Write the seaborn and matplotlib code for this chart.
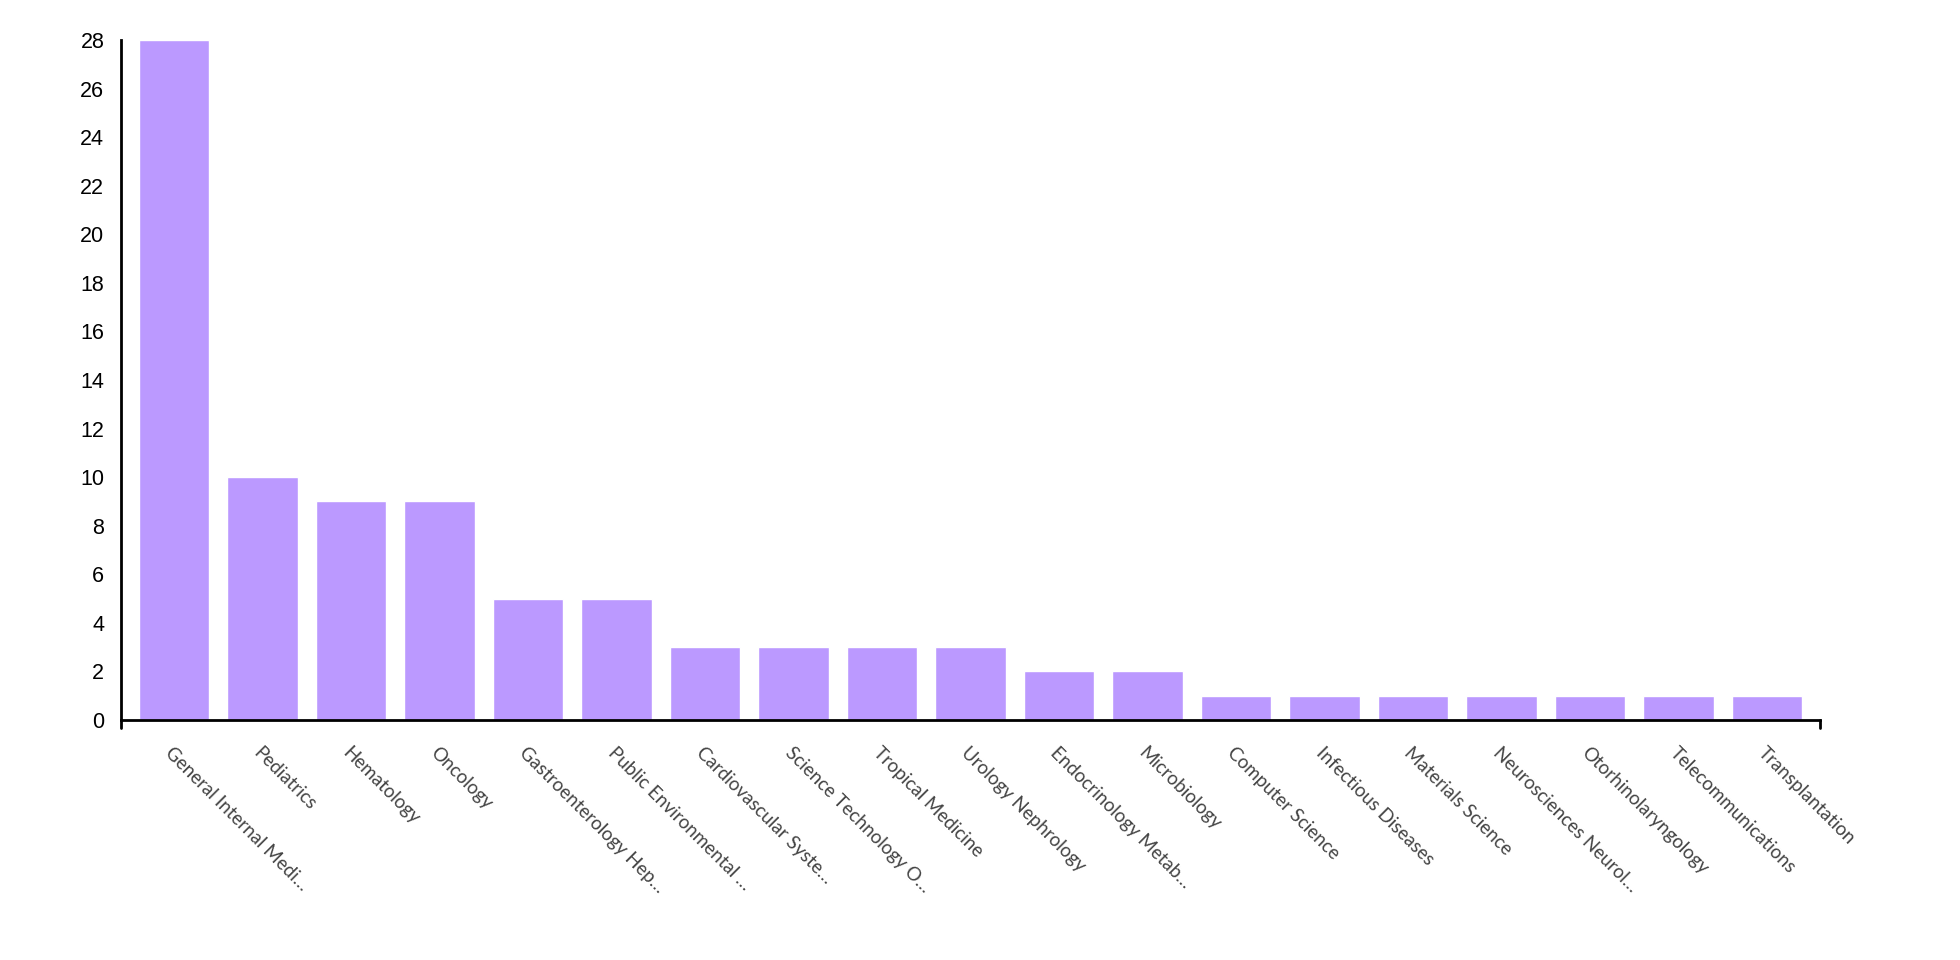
import pandas as pd
import seaborn as sns
import matplotlib.pyplot as plt

categories = [
    "General Internal Medi…", "Pediatrics", "Hematology", "Oncology",
    "Gastroenterology Hep…", "Public Environmental …", "Cardiovascular Syste…",
    "Science Technology O…", "Tropical Medicine", "Urology Nephrology",
    "Endocrinology Metab…", "Microbiology", "Computer Science",
    "Infectious Diseases", "Materials Science", "Neurosciences Neurol…",
    "Otorhinolaryngology", "Telecommunications", "Transplantation",
]
counts = [28, 10, 9, 9, 5, 5, 3, 3, 3, 3, 2, 2, 1, 1, 1, 1, 1, 1, 1]
y_ticks = list(range(0, 29, 2))

df = pd.DataFrame({"category": categories, "count": counts})

sns.set_style("white")
plt.rcParams["font.family"] = ["Liberation Sans", "DejaVu Sans"]

fig = plt.figure(figsize=(19.6, 9.6), dpi=100)
ax = fig.add_axes([121 / 1960, 1 - 720 / 960, (1820 - 121) / 1960, (720 - 40) / 960])

sns.barplot(data=df, x="category", y="count", order=categories,
            color="#bb99ff", saturation=1, width=0.8, ax=ax)

ax.set_xlim(-0.6, len(categories) - 0.4)
ax.set_ylim(0, 28)
ax.set_yticks(y_ticks)
ax.set_xlabel("")
ax.set_ylabel("")

for s in ["top", "right"]:
    ax.spines[s].set_visible(False)
for s in ["left", "bottom"]:
    ax.spines[s].set_color("black")
    ax.spines[s].set_linewidth(2)

ax.tick_params(axis="both", direction="out", length=8, width=1.8, color="black")
ax.tick_params(axis="y", labelsize=15.5, labelcolor="black", pad=4)
ax.tick_params(axis="x", pad=9)

ax.set_xticks(range(len(categories)))
ax.set_xticklabels(categories, rotation=-45, ha="left", va="top",
                   rotation_mode="anchor", fontsize=13.5, color="#444444",
                   family=["Lato", "DejaVu Sans"])

# d3 style outer end ticks on the x domain
h = 8 / 680
ax.plot([0, 0], [0, -h], transform=ax.transAxes, color="black", lw=2, clip_on=False)
ax.plot([1, 1], [0, -h], transform=ax.transAxes, color="black", lw=2, clip_on=False)

fig.savefig("out.png", dpi=100, facecolor="white")
